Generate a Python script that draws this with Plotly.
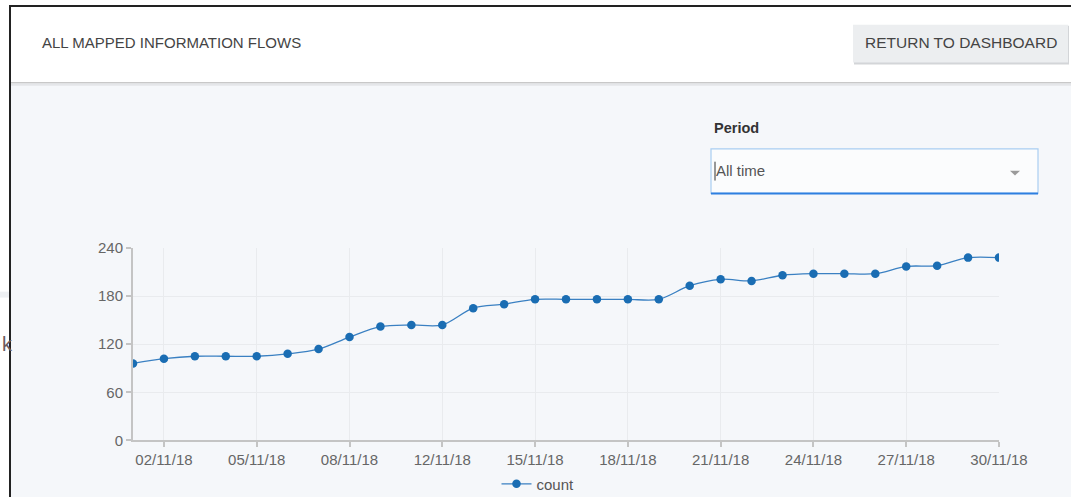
import plotly.graph_objects as go

W, H = 1071, 501

dates = ["01/11/18", "02/11/18", "03/11/18", "04/11/18", "05/11/18", "06/11/18",
         "07/11/18", "08/11/18", "09/11/18", "11/11/18", "12/11/18", "13/11/18",
         "14/11/18", "15/11/18", "16/11/18", "17/11/18", "18/11/18", "19/11/18",
         "20/11/18", "21/11/18", "22/11/18", "23/11/18", "24/11/18", "25/11/18",
         "26/11/18", "27/11/18", "28/11/18", "29/11/18", "30/11/18"]
counts = [96, 102, 105, 105, 105, 108, 114, 129, 142, 144, 144, 165, 170, 176, 176,
          176, 176, 176, 193, 201, 199, 206, 208, 208, 208, 217, 218, 228, 228]
tick_labels = ["02/11/18", "05/11/18", "08/11/18", "12/11/18", "15/11/18",
               "18/11/18", "21/11/18", "24/11/18", "27/11/18", "30/11/18"]
y_ticks = [0, 60, 120, 180, 240]

FONT = "Liberation Sans, Arial, sans-serif"


def px(x):
    return x / W


def py(y):
    return 1 - y / H


fig = go.Figure()
fig.add_trace(go.Scatter(
    x=dates, y=counts, name="count", mode="lines+markers",
    line=dict(color="#3a80c2", width=1.3, shape="spline", smoothing=0.9),
    marker=dict(color="#1a6db3", size=8.5),
))

shapes = []
# page background below header
shapes.append(dict(type="rect", xref="paper", yref="paper", x0=px(10), x1=px(1071),
                   y0=py(501), y1=py(84), fillcolor="#f5f7fa", line=dict(width=0), layer="below"))
# header white
shapes.append(dict(type="rect", xref="paper", yref="paper", x0=px(10), x1=px(1071),
                   y0=py(84), y1=py(6), fillcolor="#ffffff", line=dict(width=0), layer="below"))
# header shadow lines
shapes.append(dict(type="line", xref="paper", yref="paper", x0=px(10), x1=px(1071),
                   y0=py(83.5), y1=py(83.5), line=dict(color="#c8c8c8", width=1.5)))
shapes.append(dict(type="line", xref="paper", yref="paper", x0=px(10), x1=px(1071),
                   y0=py(85.5), y1=py(85.5), line=dict(color="#e4e6e9", width=2)))
# frame
shapes.append(dict(type="line", xref="paper", yref="paper", x0=px(10), x1=px(10),
                   y0=py(501), y1=py(6), line=dict(color="#222222", width=2)))
shapes.append(dict(type="line", xref="paper", yref="paper", x0=px(9), x1=px(1071),
                   y0=py(6), y1=py(6), line=dict(color="#222222", width=2)))
# faint stripe left of frame
shapes.append(dict(type="rect", xref="paper", yref="paper", x0=0, x1=px(9),
                   y0=py(300), y1=py(294), fillcolor="#eef0f3", line=dict(width=0), layer="below"))
# button shadow + body
shapes.append(dict(type="rect", xref="paper", yref="paper", x0=px(854), x1=px(1069),
                   y0=py(65), y1=py(26), fillcolor="#d3d5d8", line=dict(width=0)))
shapes.append(dict(type="rect", xref="paper", yref="paper", x0=px(853), x1=px(1068),
                   y0=py(63), y1=py(25), fillcolor="#eceef0", line=dict(width=0)))
# dropdown
shapes.append(dict(type="rect", xref="paper", yref="paper", x0=px(711), x1=px(1038),
                   y0=py(195), y1=py(150), fillcolor="#fbfcfd", line=dict(color="#a9cdf2", width=1.2)))
shapes.append(dict(type="line", xref="paper", yref="paper", x0=px(711), x1=px(1038),
                   y0=py(195), y1=py(195), line=dict(color="#2d7fe0", width=2)))
shapes.append(dict(type="line", xref="paper", yref="paper", x0=px(715), x1=px(715),
                   y0=py(182), y1=py(163), line=dict(color="#333333", width=1)))
shapes.append(dict(type="path", xref="paper", yref="paper",
                   path=f"M {px(1010)} {py(172)} L {px(1020)} {py(172)} L {px(1015)} {py(177)} Z",
                   fillcolor="#9a9a9a", line=dict(width=0)))

ann = [
    dict(text="ALL MAPPED INFORMATION FLOWS", x=px(40), y=py(43), xanchor="left", yanchor="middle",
         font=dict(family=FONT, size=15, color="#444444")),
    dict(text="RETURN TO DASHBOARD", x=px(961), y=py(43), xanchor="center", yanchor="middle",
         font=dict(family=FONT, size=15.5, color="#444444")),
    dict(text="<b>Period</b>", x=px(712), y=py(129), xanchor="left", yanchor="middle",
         font=dict(family=FONT, size=14.5, color="#333333")),
    dict(text="All time", x=px(714), y=py(172), xanchor="left", yanchor="middle",
         font=dict(family=FONT, size=15, color="#555555")),
    dict(text="k", x=px(0), y=py(347), xanchor="left", yanchor="middle",
         font=dict(family=FONT, size=20, color="#6b5a5e")),
]
for a in ann:
    a.update(xref="paper", yref="paper", showarrow=False)

fig.update_layout(
    width=W, height=H,
    margin=dict(l=0, r=0, t=0, b=0),
    paper_bgcolor="#ffffff", plot_bgcolor="rgba(0,0,0,0)",
    shapes=shapes, annotations=ann,
    showlegend=True,
    legend=dict(orientation="h", x=px(538), y=py(488), xanchor="center", yanchor="middle",
                itemwidth=30,
                font=dict(family=FONT, size=15, color="#555555"), bgcolor="rgba(0,0,0,0)"),
    xaxis=dict(domain=[px(133), px(999)], type="category", categoryorder="array",
               categoryarray=dates, range=[0, len(dates) - 1],
               tickmode="array", tickvals=tick_labels, ticktext=tick_labels,
               ticks="outside", ticklen=5, tickcolor="#c4c4c4", tickwidth=1.5,
               showline=True, linecolor="#c4c4c4", linewidth=2,
               showgrid=True, gridcolor="#e9ebee", gridwidth=1, zeroline=False,
               tickfont=dict(family=FONT, size=15, color="#666666"), automargin=False),
    yaxis=dict(domain=[py(444), py(250)], range=[0, 240], tickvals=y_ticks,
               ticks="outside", ticklen=5, tickcolor="#c4c4c4", tickwidth=1.5,
               showline=True, linecolor="#c4c4c4", linewidth=2,
               showgrid=True, gridcolor="#e9ebee", gridwidth=1, zeroline=False,
               tickfont=dict(family=FONT, size=15, color="#666666"), automargin=False),
    hovermode=False,
)

fig.write_html("out.html", config={"displayModeBar": False},
               post_script="document.body.style.margin='0';document.body.style.overflow='hidden';")
